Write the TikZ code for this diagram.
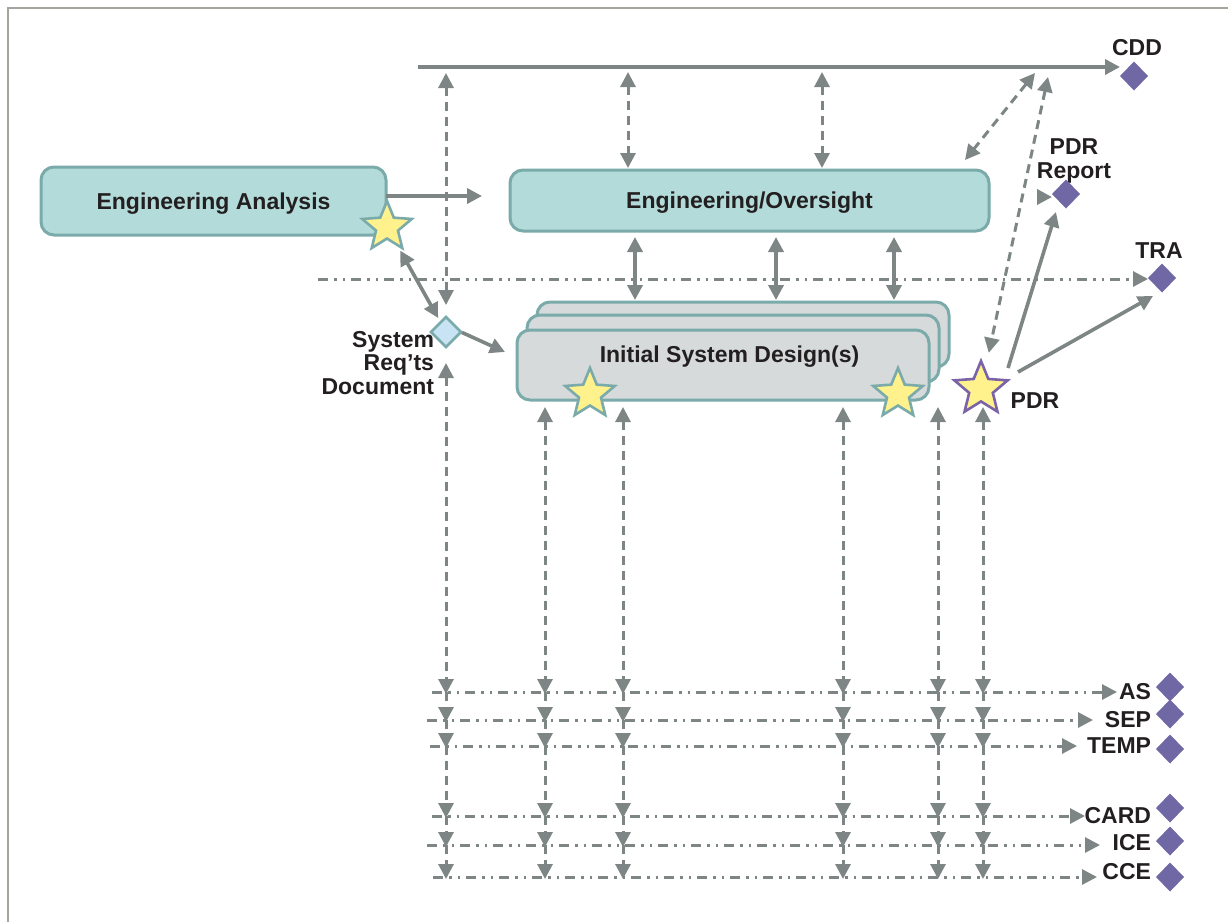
\documentclass[tikz,border=0pt]{standalone}
\usepackage{fontspec}
\setmainfont{Liberation Sans}
\usetikzlibrary{arrows.meta,shapes.geometric}
\definecolor{tealF}{HTML}{B3DBDA}
\definecolor{tealE}{HTML}{7AAAA9}
\definecolor{grayF}{HTML}{D6DADA}
\definecolor{arr}{HTML}{7D8684}
\definecolor{purp}{HTML}{6F68A5}
\definecolor{staryel}{HTML}{FFF28C}
\definecolor{starpurp}{HTML}{7B63A8}
\definecolor{ltblue}{HTML}{C8E4F4}
\definecolor{framec}{HTML}{A3A69C}
\definecolor{txt}{HTML}{231F20}
\tikzset{
  >={Triangle[length=15pt,width=15pt]},
  every node/.style={inner sep=0pt, outer sep=0pt},
  lbl/.style={font=\fontsize{23}{23.5}\selectfont\bfseries, text=txt},
  box/.style={lbl, rounded corners=13pt, draw=tealE, line width=3pt, text depth=0pt},
  tealbox/.style={box, fill=tealF},
  isdbox/.style={box, fill=grayF},
  conn/.style={draw=arr, line width=3.6pt, ->},
  dconn/.style={conn, line width=3pt, dash pattern=on 9pt off 6pt},
  ddconn/.style={conn, line width=3pt, dash pattern=on 10pt off 6pt on 2.5pt off 6pt on 2.5pt off 6pt},
  deliv/.style={diamond, fill=purp, minimum width=28pt, minimum height=29pt},
  srdstyle/.style={diamond, fill=ltblue, draw=tealE, line width=2.5pt, minimum width=30pt, minimum height=30pt},
  ystar/.style={star, star points=5, star point ratio=2.25, fill=staryel, draw=tealE, line width=2.6pt, minimum size=52pt},
  pstar/.style={ystar, draw=starpurp, minimum size=56pt}
}
\begin{document}
\begin{tikzpicture}[x=1pt,y=-1pt]
\useasboundingbox (0,0) rectangle (1228,922);
% frame
\draw[framec, line width=2pt] (8,922) -- (8,8) -- (1228,8);

% boxes
\node[tealbox, minimum width=345pt, minimum height=68pt] (ea) at (213.5,201) {Engineering Analysis};
\node[tealbox, minimum width=479pt, minimum height=61pt] (eo) at (749.5,200.5) {Engineering/Oversight};
\node[isdbox, minimum width=412pt, minimum height=65pt] (isdback) at (743,334.5) {};
\node[isdbox, minimum width=412pt, minimum height=67pt] (isdmid) at (733,348.5) {};
\node[isdbox, minimum width=412pt, minimum height=70pt] (isd) at (723,365) {};
\node[lbl] (isdtext) at (729.5,357) {Initial System Design(s)};

% stars
\node[ystar] (eastar) at (387,227) {};
\node[ystar] (isdstar1) at (590,394) {};
\node[ystar] (isdstar2) at (898,394) {};
\node[pstar] (pdr) at (981,389) {};
\node[lbl] (pdrl) at (1035,401) {PDR};

% system req'ts document
\node[srdstyle] (srd) at (446,332) {};
\node[lbl, align=right, anchor=east] (srdl) at (434,363) {System\\Req’ts\\Document};

% deliverables top
\node[lbl] (cddl) at (1137,47.5) {CDD};
\node[deliv] (cdd) at (1134,76) {};
\node[lbl, align=center] (repl) at (1074,161) {PDR\\Report};
\node[deliv] (rep) at (1066,194) {};
\node[lbl] (tral) at (1159,251) {TRA};
\node[deliv] (tra) at (1162,278) {};

% coordinates
\coordinate (cddstart) at (418,67);
\coordinate (trastart) at (318,279);
\coordinate (cddA) at (1035,73);
\coordinate (cddB) at (1048,77);
\coordinate (k0) at (446,0);
\coordinate (t1) at (628,0);
\coordinate (t2) at (822,0);
\coordinate (m1) at (635,0);
\coordinate (m2) at (776,0);
\coordinate (m3) at (894,0);
\coordinate (b1) at (545,0);
\coordinate (b2) at (623,0);
\coordinate (b3) at (843,0);
\coordinate (b4) at (938,0);
\coordinate (b5) at (983,0);
\coordinate (rtop) at (0,407);

% top line and TRA line
\draw[conn] (cddstart) -- (cddstart -| cdd.west);
\draw[ddconn] (trastart) -- (trastart -| tra.west);

% top dashed verticals
\draw[dconn, <->, shorten <=5pt, shorten >=2pt] (t1 |- cddstart) -- (t1 |- eo.north);
\draw[dconn, <->, shorten <=5pt, shorten >=2pt] (t2 |- cddstart) -- (t2 |- eo.north);
\draw[dconn, <->, shorten <=6pt, shorten >=12pt] (k0 |- cddstart) -- (srd.north);
\draw[dconn, <->] (cddA) -- ([xshift=-24pt,yshift=10pt]eo.north east);
\draw[dconn, <->, shorten >=37pt] (cddB) -- (pdr.center);

% EO <-> ISD
\foreach \m in {m1,m2,m3}
  \draw[conn, <->, shorten <=6pt, shorten >=2pt] (\m |- eo.south) -- (\m |- isdback.north);

% EA -> EO
\draw[conn, shorten >=28pt] ([yshift=5pt]ea.east) -- ([yshift=5pt]ea.east -| eo.west);
% EA star <-> SRD
\draw[conn, <->, shorten <=27pt, shorten >=16pt] (eastar.center) -- (srd.center);
% SRD -> ISD
\draw[conn, shorten <=1pt] (srd.east) -- ([xshift=-12pt,yshift=13pt]isd.west);

% PDR outputs
\draw[conn] ([xshift=27pt,yshift=21pt]pdr.center) -- ([xshift=-10pt,yshift=-18pt]rep.center);
\draw[conn] ([xshift=37pt,yshift=17pt]pdr.center) -- ([xshift=-9pt,yshift=-18pt]tra.center);
\draw[conn] ([xshift=-15pt,yshift=-3pt]rep.west) -- ([yshift=-3pt]rep.west);

% bottom deliverables rows
\foreach \n/\ly/\ty/\dy/\sx/\tx in {AS/692/692/687/432/1117, SEP/720/720/714/427/1093, TEMP/746/746/749/430/1077, CARD/816/816/808/432/1085, ICE/845/843/841/427/1100, CCE/877/872/877/433/1097}{
  \node[lbl, anchor=east] (l\n) at (1151,\ty) {\n};
  \node[deliv] (d\n) at (1170,\dy) {};
  \coordinate (r\n) at (\sx,\ly);
  \coordinate (e\n) at (\tx,\ly);
  \draw[ddconn] (r\n) -- (e\n);
}

% lower verticals
\draw[dconn, <->, shorten <=16pt, shorten >=-2pt] (srd.south) -- (k0 |- rAS);
\foreach \c in {b1,b2,b3,b4,b5}
  \draw[dconn, <->, shorten >=-2pt] (\c |- rtop) -- (\c |- rAS);
\foreach \c in {k0,b1,b2,b3,b4,b5}{
  \foreach \a/\b in {AS/SEP,SEP/TEMP,TEMP/CARD,CARD/ICE,ICE/CCE}{
    \draw[dconn, shorten >=-2pt] (\c |- r\a) -- (\c |- r\b);
  }
}
\end{tikzpicture}
\end{document}
